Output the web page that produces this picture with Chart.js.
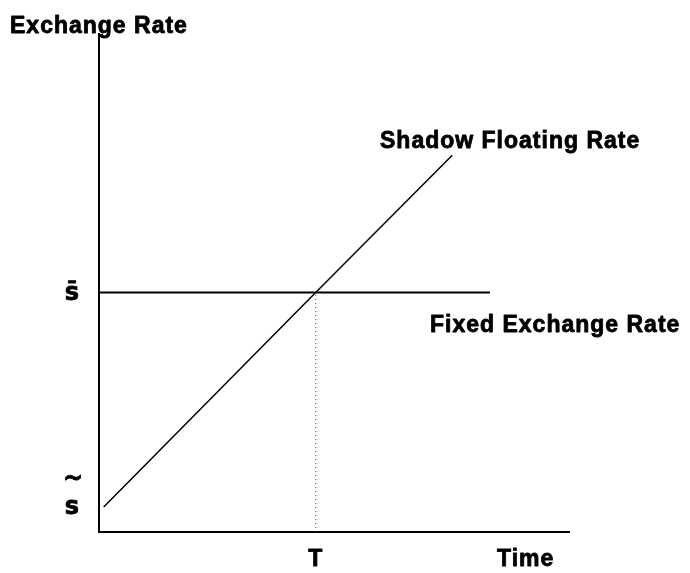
<!DOCTYPE html>
<html>
<head>
<meta charset="utf-8">
<script src="https://cdn.jsdelivr.net/npm/chart.js@4/dist/chart.umd.min.js"></script>
<style>
    html, body { margin: 0; padding: 0; background: #fff; }
    #wrap { width: 690px; height: 573px; }
</style>
</head>
<body>
<div id="wrap"><canvas id="chart" width="690" height="573"></canvas></div>
<script>
    "use strict";

    // data (axis units are arbitrary, 0..10 on both axes)
    const shadowTime = [0.1, 4.6, 7.5];
    const shadowRate = [0.5, 4.8, 7.55];
    const fixedTime = [0, 8.3];
    const fixedRate = [4.8, 4.8];
    const switchTime = [4.6, 4.6];
    const switchRate = [0, 4.8];
    const yTickValues = [4.8, 0.5];
    const yTickLabels = ['s\u0304', 's'];
    const xTickValues = [4.6];
    const xTickLabels = ['T'];

    const FONT = 'bold 23px "Liberation Sans", Arial, sans-serif';

    function toPoints(xs, ys) {
        return xs.map(function (x, i) { return { x: x, y: ys[i] }; });
    }

    // heavier text, the original uses a very bold face
    function boldText(ctx, text, x, y) {
        ctx.fillText(text, x, y);
        ctx.strokeText(text, x, y);
    }

    const annotate = {
        id: 'annotate',
        beforeDatasetsDraw: function (chart) {
            const ctx = chart.ctx;
            const xs = chart.scales.x;
            const ys = chart.scales.y;
            const x0 = xs.getPixelForValue(xs.min);
            const y0 = ys.getPixelForValue(ys.min);
            ctx.save();
            ctx.strokeStyle = '#000';
            ctx.lineWidth = 2;
            ctx.beginPath();
            ctx.moveTo(x0, ys.getPixelForValue(ys.max));
            ctx.lineTo(x0, y0);
            ctx.lineTo(xs.getPixelForValue(xs.max), y0);
            ctx.stroke();
            ctx.restore();
        },
        afterDraw: function (chart) {
            const ctx = chart.ctx;
            const xs = chart.scales.x;
            const ys = chart.scales.y;
            ctx.save();
            ctx.fillStyle = '#000';
            ctx.strokeStyle = '#000';
            ctx.lineWidth = 0.8;
            ctx.lineJoin = 'round';
            ctx.font = FONT;
            ctx.letterSpacing = '1px';
            ctx.textBaseline = 'alphabetic';
            ctx.textAlign = 'left';
            boldText(ctx, 'Exchange Rate', 10, 33);
            boldText(ctx, 'Shadow Floating Rate', 380, 148);
            boldText(ctx, 'Fixed Exchange Rate', 430, 332);
            boldText(ctx, 'Time', 497, 566);

            ctx.textAlign = 'center';
            xTickValues.forEach(function (v, i) {
                boldText(ctx, xTickLabels[i], xs.getPixelForValue(v), 566);
            });

            ctx.letterSpacing = '0px';
            ctx.font = 'bold 24px "DejaVu Sans", sans-serif';
            yTickValues.forEach(function (v, i) {
                const py = ys.getPixelForValue(v);
                ctx.textBaseline = 'middle';
                boldText(ctx, yTickLabels[i], 72, py + 1);
                if (i === 1) {
                    boldText(ctx, '~', 73, py - 27);
                }
            });
            ctx.restore();
        }
    };

    new Chart(document.getElementById('chart'), {
        type: 'scatter',
        data: {
            datasets: [
                {
                    label: 'Shadow Floating Rate',
                    data: toPoints(shadowTime, shadowRate),
                    showLine: true,
                    borderColor: '#000',
                    borderWidth: 1.5,
                    pointRadius: 0,
                },
                {
                    label: 'Fixed Exchange Rate',
                    data: toPoints(fixedTime, fixedRate),
                    showLine: true,
                    borderColor: '#000',
                    borderWidth: 2,
                    pointRadius: 0,
                },
                {
                    label: 'T',
                    data: toPoints(switchTime, switchRate),
                    showLine: true,
                    borderColor: '#555',
                    borderWidth: 1,
                    borderDash: [1, 3],
                    pointRadius: 0,
                },
            ],
        },
        options: {
            responsive: false,
            animation: false,
            layout: { padding: { left: 99, right: 120, top: 33, bottom: 41 } },
            plugins: { legend: { display: false }, tooltip: { enabled: false } },
            scales: {
                x: { type: 'linear', min: 0, max: 10, display: false },
                y: { type: 'linear', min: 0, max: 10, display: false },
            },
        },
        plugins: [annotate],
    });
</script>
</body>
</html>
